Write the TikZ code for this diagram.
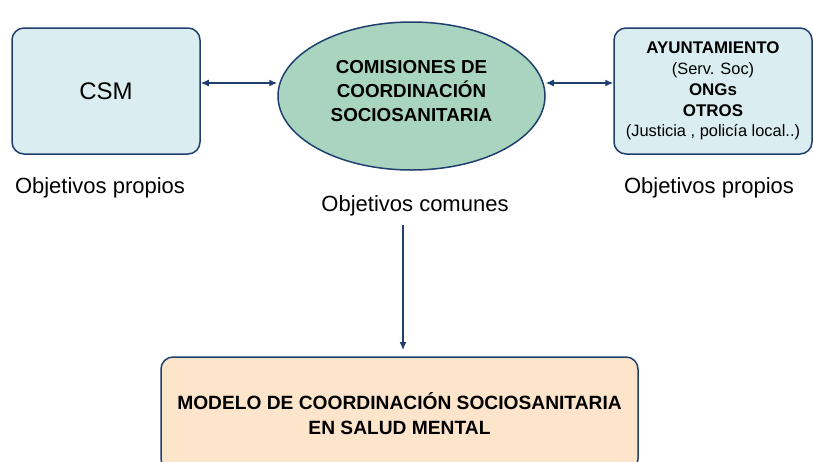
\documentclass[tikz,border=0pt]{standalone}
\usepackage{fontspec}
\setmainfont{Liberation Sans}
\usetikzlibrary{arrows.meta,shapes.geometric}
\definecolor{navy}{HTML}{1F3F6E}
\definecolor{boxblue}{HTML}{DAEDF0}
\definecolor{ellgreen}{HTML}{A9D5C0}
\definecolor{boxpeach}{HTML}{FDE5CC}
\tikzset{
  x=1pt,y=-1pt,
  rbox/.style={draw=navy,line width=1.5pt,rounded corners=12pt,align=center,inner sep=0pt},
  conn/.style={draw=navy,line width=1.2pt,{Latex[length=8pt,width=7pt]}-{Latex[length=8pt,width=7pt]}},
  oneway/.style={draw=navy,line width=1.2pt,-{Latex[length=8pt,width=7pt]}},
  lab/.style={font=\fontsize{22}{26}\selectfont,inner sep=0pt}
}
\begin{document}
\begin{tikzpicture}
\useasboundingbox (0,0) rectangle (813,461);
\begin{scope}
\clip (0,0) rectangle (813,461);
\node[rbox,fill=boxblue,minimum width=188pt,minimum height=126pt,font=\fontsize{24}{28}\selectfont] (csm) at (106,91) {CSM};
\node[ellipse,draw=navy,line width=1.5pt,fill=ellgreen,minimum width=267pt,minimum height=148pt,inner sep=0pt] (com) at (411.5,96) {};
\node[align=center,inner sep=0pt,font=\bfseries\fontsize{18.8}{24}\selectfont] (comtxt) at (411.5,91) {COMISIONES DE\\COORDINACIÓN\\SOCIOSANITARIA};
\node[rbox,fill=boxblue,minimum width=198pt,minimum height=126pt,font=\fontsize{16.4}{20.8}\selectfont] (ayu) at (713,91) {\textbf{\fontsize{16.9}{20.8}\selectfont AYUNTAMIENTO}\\(Serv. Soc)\\\textbf{\fontsize{16.9}{20.8}\selectfont ONGs}\\\textbf{\fontsize{16.9}{20.8}\selectfont OTROS}\\(Justicia , policía local..)};
\node[rbox,fill=boxpeach,minimum width=477pt,minimum height=114pt,font=\bfseries\fontsize{19.2}{25}\selectfont] (mod) at (399.5,414) {MODELO DE COORDINACIÓN SOCIOSANITARIA\\EN SALUD MENTAL};
\end{scope}
\node[lab] (op1) at (100,188) {Objetivos propios};
\node[lab] (op2) at (709,188) {Objetivos propios};
\node[lab] (oc) at (415,206) {Objetivos comunes};
\coordinate (top) at (403,225);
\draw[conn] (csm.east |- 0,83) -- (com.west |- 0,83);
\draw[conn] (com.east |- 0,83) -- (ayu.west |- 0,83);
\draw[oneway] (top) -- (403,350) coordinate (bot);
\end{tikzpicture}
\end{document}
